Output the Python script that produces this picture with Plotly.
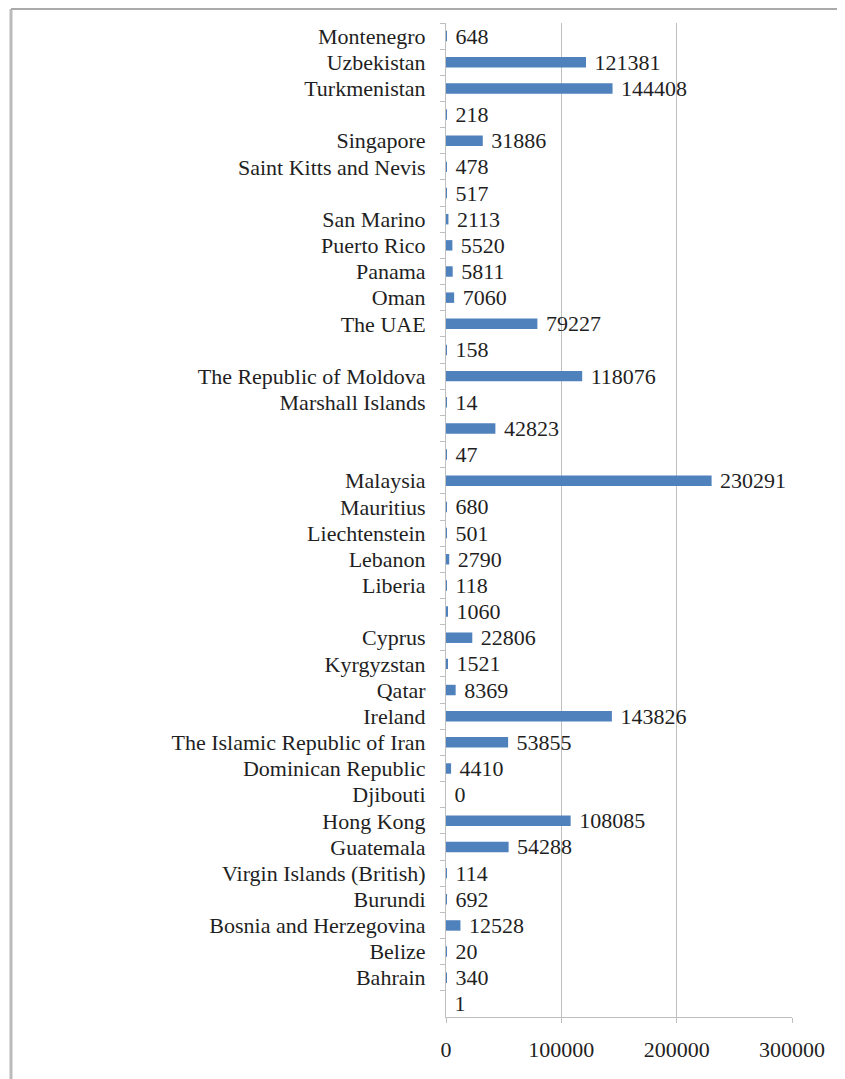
import plotly.graph_objects as go

# Categories, top to bottom as in the reference ("" = unlabeled row)
labels = [
    "Montenegro", "Uzbekistan", "Turkmenistan", "", "Singapore",
    "Saint Kitts and Nevis", "", "San Marino", "Puerto Rico", "Panama",
    "Oman", "The UAE", "", "The Republic of Moldova", "Marshall Islands",
    "", "", "Malaysia", "Mauritius", "Liechtenstein",
    "Lebanon", "Liberia", "", "Cyprus", "Kyrgyzstan",
    "Qatar", "Ireland", "The Islamic Republic of Iran", "Dominican Republic", "Djibouti",
    "Hong Kong", "Guatemala", "Virgin Islands (British)", "Burundi", "Bosnia and Herzegovina",
    "Belize", "Bahrain", "",
]
values = [
    648, 121381, 144408, 218, 31886,
    478, 517, 2113, 5520, 5811,
    7060, 79227, 158, 118076, 14,
    42823, 47, 230291, 680, 501,
    2790, 118, 1060, 22806, 1521,
    8369, 143826, 53855, 4410, 0,
    108085, 54288, 114, 692, 12528,
    20, 340, 1,
]
x_ticks = [0, 100000, 200000, 300000]
x_ticklabels = ["0", "100000", "200000", "300000"]

# unique category keys (blank rows get distinct zero-width keys)
keys = []
blank_n = 0
for lab in labels:
    if lab:
        keys.append(lab)
    else:
        blank_n += 1
        keys.append("\u200b" * blank_n)

FONT = "Liberation Serif, Times New Roman, serif"
TXT = "#1F1F1F"
GRID = "#BFBFBF"

# page body has an 8px margin, so the figure is 8px smaller and offsets reduced by 8
W, H = 837, 1071
L, R, T, B = 438, 53, 15, 62
PW = W - L - R
PH = H - T - B

fig = go.Figure(go.Bar(
    x=values, y=keys, orientation="h",
    marker=dict(color="#4F81BD", line=dict(width=0)),
    text=["\u00a0" + str(v) for v in values],
    textposition="outside", cliponaxis=False, constraintext="none",
    textfont=dict(family=FONT, size=22, color=TXT),
    width=0.4,
))

fx0 = (3 - L) / PW          # left frame line
fx1 = (W - L) / PW          # right edge of figure
fy1 = (PH + T - 1) / PH     # top frame line, 1px below the figure top

fig.update_layout(
    width=W, height=H,
    margin=dict(l=L, r=R, t=T, b=B, autoexpand=False),
    paper_bgcolor="white", plot_bgcolor="white",
    showlegend=False,
    font=dict(family=FONT, size=22, color=TXT),
    xaxis=dict(
        range=[0, 300000], tickvals=x_ticks, ticktext=x_ticklabels,
        showgrid=True, gridcolor=GRID, gridwidth=1,
        showline=True, linecolor=GRID, linewidth=1,
        ticks="outside", ticklen=5, tickcolor=GRID,
        zeroline=False, ticklabelstandoff=8,
        tickfont=dict(family=FONT, size=22, color=TXT),
    ),
    yaxis=dict(
        type="category", autorange="reversed",
        categoryorder="array", categoryarray=keys,
        showgrid=False, showline=True, linecolor=GRID, linewidth=1,
        ticks="outside", ticklen=5, tickcolor=GRID, tickson="boundaries",
        ticklabelstandoff=15,
        tickfont=dict(family=FONT, size=22, color=TXT),
    ),
    shapes=[
        dict(type="line", xref="paper", yref="paper",
             x0=fx0, x1=fx0, y0=-0.2, y1=fy1,
             line=dict(color="#BBBBBB", width=3)),
        dict(type="line", xref="paper", yref="paper",
             x0=fx0, x1=fx1, y0=fy1, y1=fy1,
             line=dict(color="#AAAAAA", width=2)),
    ],
)

fig.write_html("out.html")
